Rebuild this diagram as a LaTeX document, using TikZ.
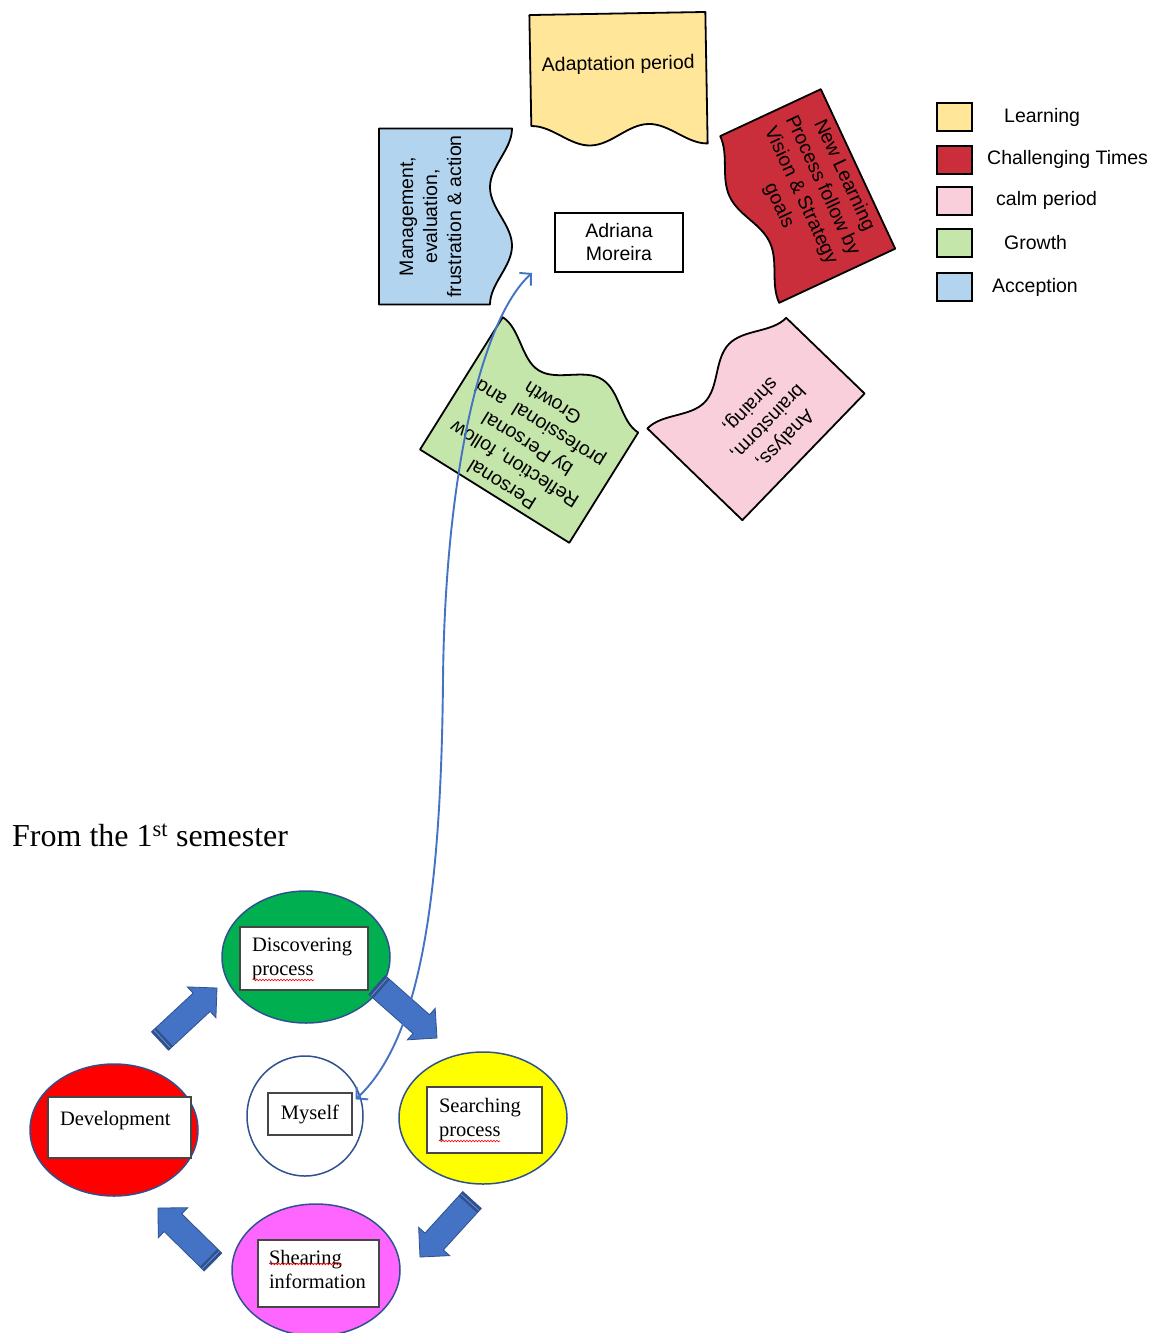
\documentclass[tikz,border=0pt]{standalone}
\usepackage{fontspec}
\setmainfont{Liberation Serif}
\newfontfamily\arialfont{Liberation Sans}
\usepackage{tikz}
\usetikzlibrary{shapes.geometric, arrows.meta, positioning, calc, decorations.pathmorphing}
\definecolor{learnfill}{RGB}{255,230,153}
\definecolor{challengefill}{RGB}{201,46,58}
\definecolor{calmfill}{RGB}{249,207,220}
\definecolor{growthfill}{RGB}{197,230,170}
\definecolor{acceptfill}{RGB}{178,212,238}
\definecolor{discgreen}{RGB}{0,176,80}
\definecolor{searchyellow}{RGB}{255,255,0}
\definecolor{devred}{RGB}{255,0,0}
\definecolor{sharepink}{RGB}{255,102,255}
\definecolor{ovaledge}{RGB}{47,82,143}
\definecolor{arrowblue}{RGB}{68,114,196}
\definecolor{arrowedge}{RGB}{47,82,143}
\definecolor{boxedge}{RGB}{70,70,70}
% document shape: name, centre, angle, height, wave depth, fill, text
\newcommand{\docshape}[7]{%
  \begin{scope}[shift={(#2)}, rotate=#3]
    \pgfmathsetmacro{\dochh}{#4/2}
    \pgfmathsetmacro{\doccr}{#4/2-#5}
    \draw[docline, fill=#6]
      (-88,-\dochh) -- (88,-\dochh) -- (88,\dochh)
      .. controls (67,\dochh) and (50.3,\doccr) .. (29.3,\doccr)
      .. controls (8.3,\doccr) and (-8.3,\dochh) .. (-29.3,\dochh)
      .. controls (-50.3,\dochh) and (-67,\doccr) .. (-88,\doccr) -- cycle;
    \node[doctext, rotate=#3] (#1) at (0,{-#5/2-4}) {#7};
  \end{scope}}
% block arrow from tail coordinate to tip coordinate
\newcommand{\blockarrow}[2]{%
  \coordinate (#1-h) at ($(#2)!21pt!(#1)$);
  \coordinate (#1-t) at ($(#1)!6pt!(#2)$);
  \coordinate (#1-m) at ($(#1)!3pt!(#2)$);
  \filldraw[blockfill]
    ($(#1)!12.5pt!90:(#2)$) -- ($(#1-h)!12.5pt!90:(#2)$)
    -- ($(#1-h)!21pt!90:(#2)$) -- (#2)
    -- ($(#1-h)!21pt!-90:(#2)$) -- ($(#1-h)!12.5pt!-90:(#2)$)
    -- ($(#1)!12.5pt!-90:(#2)$) -- cycle;
  \fill[arrowedge]
    ($(#1)!12.5pt!90:(#2)$) -- ($(#1)!12.5pt!-90:(#2)$)
    -- ($(#1-t)!12.5pt!-90:(#2)$) -- ($(#1-t)!12.5pt!90:(#2)$) -- cycle;
  \draw[arrowblue!80!white, line width=0.8pt]
    ($(#1-m)!12pt!90:(#2)$) -- ($(#1-m)!12pt!-90:(#2)$);}
\tikzset{
  docline/.style={
    draw=black, line width=1.8pt, line join=round
  },
  doctext/.style={
    font=\arialfont\fontsize{19.5}{24}\selectfont,
    align=center, inner sep=0pt
  },
  namebox/.style={
    draw=black, fill=white, line width=2pt,
    minimum width=128pt, minimum height=59pt, align=center,
    font=\arialfont\fontsize{19.5}{23}\selectfont
  },
  swatch/.style={
    draw=black, line width=2pt,
    minimum width=35pt, minimum height=28pt, inner sep=0pt
  },
  legendtext/.style={
    font=\arialfont\fontsize{19.5}{23}\selectfont, inner sep=0pt
  },
  oval/.style={
    ellipse, draw=ovaledge, line width=1.5pt,
    minimum width=168pt, minimum height=132pt, inner sep=0pt
  },
  textbox/.style={
    draw=boxedge, fill=white, line width=1.2pt,
    inner xsep=12pt, inner ysep=6pt, align=left,
    font=\fontsize{20.5}{24}\selectfont
  },
  blockfill/.style={
    fill=arrowblue, draw=arrowedge, line width=0.8pt, line join=miter
  },
  linkarrow/.style={
    {Straight Barb[length=8pt,width=17pt]}-{Straight Barb[length=8pt,width=17pt]},
    draw=arrowblue, line width=1.9pt
  },
  spellmark/.style={
    draw=red, line width=0.6pt, decorate,
    decoration={snake, amplitude=0.8pt, segment length=3pt}
  },
  titletext/.style={
    font=\fontsize{32}{38}\selectfont, inner sep=0pt
  },
}
\begin{document}
\begin{tikzpicture}[x=1pt, y=-1pt]

  \path[use as bounding box, fill=white] (0,0) rectangle (1156,1333);

  %% Name in the middle
  \node[namebox] (adriana) at (619,242.5) {Adriana\\Moreira};

  %% Document shapes round the name
  \docshape{adapt}{618.5,79.25}{1}{131.5}{20.5}{learnfill}{Adaptation period}
  \docshape{vision}{800,196}{-65}{128}{17}{challengefill}
    {New Learning\\Process follow by\\Vision \& Strategy\\goals}
  \docshape{analysis}{756,411}{226}{132}{23}{calmfill}
    {Analyss,\\brainstorm,\\shraing,}
  \docshape{reflect}{536,430}{148}{156}{26}{growthfill}
    {Personal\\Reflection, follow\\by Personal\\professional \ and\\Growth}
  \docshape{manage}{445.5,216.5}{90}{133}{22}{acceptfill}
    {Management,\\evaluation,\\frustration \& action}

  %% Legend
  \node[swatch, fill=learnfill] (leg1) at (954.5,117) {};
  \node[legendtext, right=31pt of leg1] (leg1t) {Learning};
  \node[swatch, fill=challengefill] (leg2) at (954.5,159.5) {};
  \node[legendtext, right=14pt of leg2] (leg2t) {Challenging Times};
  \node[swatch, fill=calmfill] (leg3) at (954.5,200.5) {};
  \node[legendtext, right=23pt of leg3] (leg3t) {calm period};
  \node[swatch, fill=growthfill] (leg4) at (954.5,243) {};
  \node[legendtext, right=31pt of leg4] (leg4t) {Growth};
  \node[swatch, fill=acceptfill] (leg5) at (954.5,287) {};
  \node[legendtext, right=19pt of leg5] (leg5t) {Acception};

  %% First semester cycle
  \node[titletext, anchor=base west] (semester) at (12,846)
    {From the 1\textsuperscript{st} semester};

  \node[oval, fill=discgreen] (discover) at (306,957) {};
  \node[oval, fill=searchyellow] (search) at (483,1118) {};
  \node[oval, fill=devred] (develop) at (114,1130) {};
  \node[oval, fill=sharepink] (share) at (316,1270) {};
  \node[oval, fill=white, minimum width=116pt, minimum height=120pt]
    (myself) at (305,1116) {};

  \node[textbox, text width=104pt, minimum height=63pt] (disctext)
    at (304,958.5) {Discovering\\process};
  \node[textbox, text width=91pt, minimum height=66pt] (searchtext)
    at (484.5,1120) {Searching\\process};
  \node[textbox, text width=119pt, text height=22pt, text depth=27pt] (devtext)
    at (119.5,1127.5) {Development};
  \node[textbox, inner xsep=6pt, minimum width=84pt, minimum height=42pt] (selftext)
    at (310,1114) {Myself};
  \node[textbox, inner xsep=11pt, text width=99pt, minimum height=67pt, text depth=32pt]
    (sharetext) at (318.5,1273.5) {Shearing\\information};

  %% spelling marks
  \draw[spellmark] (253,980) -- (314,980);
  \draw[spellmark] (439,1141) -- (500,1141);
  \draw[spellmark] (269,1264) -- (342,1264);

  %% Block arrows of the cycle
  \coordinate (devdisc) at (160,1041);
  \coordinate (devdisc-e) at (217,988);
  \coordinate (discsearch) at (377,985);
  \coordinate (discsearch-e) at (437,1038);
  \coordinate (searchshare) at (472,1200);
  \coordinate (searchshare-e) at (420,1257);
  \coordinate (sharedev) at (213,1262);
  \coordinate (sharedev-e) at (158,1208);
  \blockarrow{devdisc}{devdisc-e}
  \blockarrow{discsearch}{discsearch-e}
  \blockarrow{searchshare}{searchshare-e}
  \blockarrow{sharedev}{sharedev-e}

  %% Link between the two pictures
  \draw[linkarrow] ([xshift=-22pt]adriana.south west)
    .. controls (480,320) and (445,480) .. (443,680)
    .. controls (441,900) and (420,1040) .. ([xshift=3pt, yshift=-7pt]selftext.north east);

\end{tikzpicture}
\end{document}
